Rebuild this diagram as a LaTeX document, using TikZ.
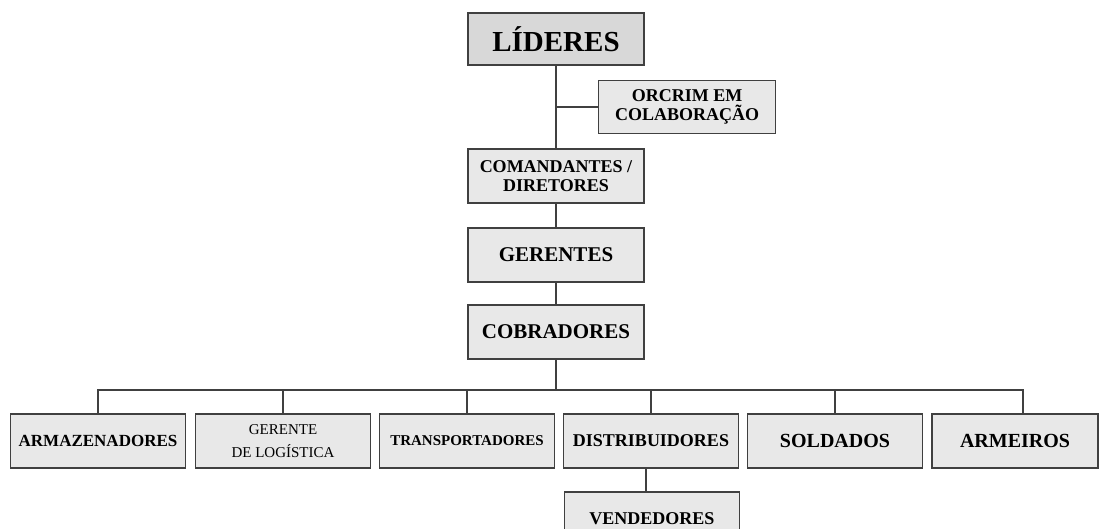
\documentclass[tikz,border=0pt]{standalone}
\usepackage{fontspec}
\setmainfont{Liberation Serif}
\usetikzlibrary{positioning}
\definecolor{boxgray}{RGB}{232,232,232}
\definecolor{topgray}{RGB}{216,216,216}
\definecolor{edgegray}{RGB}{64,64,64}
\tikzset{
  cargo/.style={draw=edgegray, line width=1.6pt, fill=boxgray, minimum width=176pt, minimum height=54pt,
    align=center, inner sep=2pt, font=\fontsize{18}{19}\selectfont\bfseries},
  ligacao/.style={draw=edgegray, line width=1.6pt}
}

\begin{document}
\begin{tikzpicture}[x=1pt, y=-1pt]
% page frame
\fill[white] (0,0) rectangle (1102,528);
\clip (0,0) rectangle (1102,528);
% top of the chain
\node[cargo, fill=topgray, minimum height=52pt, font=\fontsize{29}{30}\selectfont\bfseries] (lideres) at (556,39) {LÍDERES};
\node[cargo, minimum width=177pt, minimum height=53pt, font=\fontsize{18}{19}\selectfont\bfseries] (orcrim) at (687,107) {ORCRIM EM\\COLABORAÇÃO};
\node[cargo] (comand) at (556,176) {COMANDANTES /\\DIRETORES};
\node[cargo, font=\fontsize{21}{22}\selectfont\bfseries] (gerentes) at (556,255) {GERENTES};
\node[cargo, font=\fontsize{21}{22}\selectfont\bfseries] (cobrad) at (556,332) {COBRADORES};
% bottom row
\node[cargo, minimum width=175pt, font=\fontsize{17}{18}\selectfont\bfseries] (armaz) at (98,441) {ARMAZENADORES};
\node[cargo, minimum width=175pt, font=\fontsize{15}{23}\selectfont] (gerlog) at (283,441) {GERENTE\\DE LOGÍSTICA};
\node[cargo, minimum width=175pt, font=\fontsize{15}{16}\selectfont\bfseries] (transp) at (467,441) {TRANSPORTADORES};
\node[cargo, minimum width=175pt] (distrib) at (651,441) {DISTRIBUIDORES};
\node[cargo, minimum width=175pt, font=\fontsize{20}{21}\selectfont\bfseries] (soldados) at (835,441) {SOLDADOS};
\node[cargo, minimum width=166pt, font=\fontsize{20}{21}\selectfont\bfseries] (armeiros) at (1015,441) {ARMEIROS};
\node[cargo, minimum width=175pt] (vended) at (652,519) {VENDEDORES};
% vertical chain
\draw[ligacao] (lideres) -- (comand);
\draw[ligacao] (orcrim.west) -- (orcrim.west -| lideres.south);
\draw[ligacao] (comand) -- (gerentes);
\draw[ligacao] (gerentes) -- (cobrad);
% bus to the bottom row
\coordinate (barra) at (556,390);
\draw[ligacao] (cobrad.south) -- (barra);
\draw[ligacao] (armaz.north) |- (barra) -| ([xshift=8pt]armeiros.north);
\foreach \n in {gerlog, transp, distrib, soldados}
  \draw[ligacao] (\n.north) -- (\n.north |- barra);
\draw[ligacao] ([xshift=-5pt]distrib.south) -- ([xshift=-5pt]distrib.south |- vended.north);
\end{tikzpicture}
\end{document}
